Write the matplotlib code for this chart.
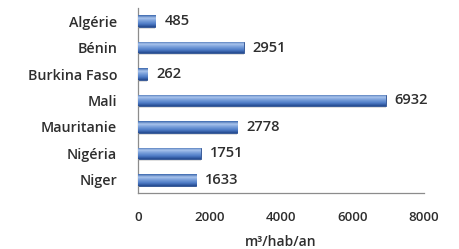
import numpy as np
import matplotlib
matplotlib.use("Agg")
import matplotlib.pyplot as plt
from matplotlib.colors import LinearSegmentedColormap

countries = ["Algérie", "Bénin", "Burkina Faso", "Mali", "Mauritanie", "Nigéria", "Niger"]
values = [485, 2951, 262, 6932, 2778, 1751, 1633]
xticks = [0, 2000, 4000, 6000, 8000]
xlabel = "m³/hab/an"

plt.rcParams['font.family'] = ['Open Sans', 'DejaVu Sans']
TXT = "#2e2e2e"

fig = plt.figure(figsize=(4.59, 2.49), dpi=100)
fig.patch.set_facecolor("white")
ax = fig.add_axes([0.3007, 0.2249, 0.623, 0.743])

y = np.arange(len(countries))
bar_h = 0.44

# soft shadow under each bar
ax.barh(y + 0.07, values, height=bar_h, left=0, color="#b9b9b9", alpha=0.45,
        edgecolor="none", zorder=1)
bars = ax.barh(y, values, height=bar_h, color="#4a7cc4", edgecolor="#2c4f8f",
               linewidth=0.6, zorder=2)

# cylinder-like vertical gradient clipped to each bar
cmap = LinearSegmentedColormap.from_list(
    "cyl", [(0.0, "#3b67ad"), (0.25, "#a9c4ec"), (0.45, "#7ea3dc"),
            (0.75, "#4d7bc6"), (1.0, "#24498e")])
grad = np.linspace(0, 1, 64).reshape(-1, 1)
for b in bars:
    x0, y0 = b.get_x(), b.get_y()
    w, h = b.get_width(), b.get_height()
    im = ax.imshow(grad, cmap=cmap, aspect="auto", origin="upper",
                   extent=(x0, x0 + w, y0 + h, y0), zorder=3)
    im.set_clip_path(b)

for yi, v in zip(y, values):
    ax.text(v + 250, yi, str(v), va="center", ha="left", fontsize=10.5,
            color=TXT, fontweight="semibold", zorder=4)

ax.set_xlim(0, 8000)
ax.set_ylim(len(countries) - 0.5, -0.5)
ax.set_xticks(xticks)
ax.set_xticklabels([str(t) for t in xticks], fontsize=9.5, color=TXT,
                   fontweight="semibold")
ax.set_yticks(y)
ax.set_yticklabels(countries, fontsize=10.3, color=TXT, fontweight="semibold")
ax.tick_params(axis="both", length=0)
ax.tick_params(axis="x", pad=13)
ax.tick_params(axis="y", pad=15)
ax.set_xlabel(xlabel, fontsize=10, color=TXT, labelpad=8, fontweight="semibold")

for s in ["top", "right"]:
    ax.spines[s].set_visible(False)
ax.spines["left"].set_color("#8c8c8c")
ax.spines["bottom"].set_color("#8c8c8c")
ax.spines["left"].set_linewidth(0.9)
ax.spines["bottom"].set_linewidth(0.9)
ax.set_facecolor("white")

fig.savefig("out.png", dpi=100, facecolor="white")
